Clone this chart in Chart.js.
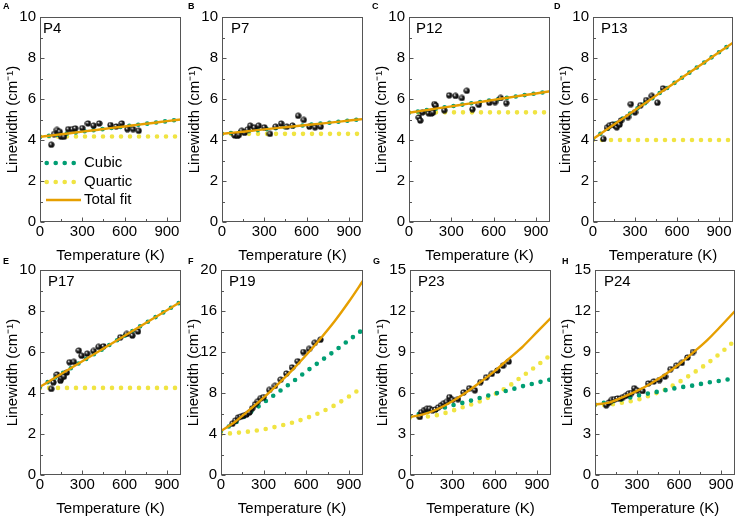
<!DOCTYPE html>
<html>
<head>
<meta charset="utf-8">
<script src="https://cdn.jsdelivr.net/npm/chart.js@4.4.1/dist/chart.umd.min.js"></script>
<style>
    body { margin: 0; background: #fff; width: 738px; height: 520px; position: relative; overflow: hidden; font-family: 'Liberation Sans', Arial, sans-serif; }
    canvas { position: absolute; }
    .tag { position: absolute; font-weight: bold; font-size: 9px; line-height: 9px; color: #000; }
</style>
</head>
<body>
<script>
// shared axes
const xTicks = [0, 300, 600, 900];
const xMinor = [150, 450, 750];
const yTicks10 = [0, 2, 4, 6, 8, 10];
const yTicks20 = [0, 4, 8, 12, 16, 20];
const yTicks15 = [0, 3, 6, 9, 12, 15];

const fitT = [0, 100, 200, 300, 400, 500, 600, 700, 800, 900, 1000];

// P4
const p4T = [80, 100, 120, 140, 150, 170, 200, 230, 250, 300, 340, 380, 420, 500, 540, 580, 620, 660, 700];
const p4W = [3.77, 4.29, 4.49, 4.4, 4.16, 4.16, 4.53, 4.53, 4.57, 4.58, 4.81, 4.7, 4.81, 4.73, 4.66, 4.81, 4.53, 4.53, 4.45];
const p4Cubic = [4.15, 4.24, 4.32, 4.41, 4.49, 4.58, 4.66, 4.75, 4.83, 4.92, 5.0];
const p4Quartic = [4.17, 4.17, 4.17, 4.17, 4.17, 4.17, 4.17, 4.17, 4.17, 4.17, 4.17];
const p4Total = [4.15, 4.24, 4.32, 4.41, 4.49, 4.58, 4.66, 4.75, 4.83, 4.92, 5.0];

// P7
const p7T = [90, 110, 120, 140, 160, 180, 200, 230, 260, 300, 340, 380, 420, 460, 500, 540, 580, 620, 660, 700];
const p7W = [4.22, 4.2, 4.25, 4.45, 4.35, 4.5, 4.7, 4.6, 4.7, 4.62, 4.3, 4.65, 4.8, 4.65, 4.7, 5.18, 4.98, 4.65, 4.62, 4.65];
const p7Cubic = [4.3, 4.37, 4.44, 4.52, 4.59, 4.66, 4.73, 4.8, 4.87, 4.95, 5.02];
const p7Quartic = [4.3, 4.3, 4.3, 4.3, 4.3, 4.3, 4.3, 4.3, 4.3, 4.3, 4.3];
const p7Total = [4.3, 4.37, 4.44, 4.52, 4.59, 4.66, 4.73, 4.8, 4.87, 4.95, 5.02];

// P12
const p12T = [70, 80, 95, 140, 160, 170, 180, 190, 250, 285, 330, 375, 410, 450, 495, 570, 610, 650, 690];
const p12W = [5.1, 4.95, 5.35, 5.3, 5.3, 5.35, 5.75, 5.68, 5.45, 6.18, 6.15, 6.05, 6.4, 5.5, 5.72, 5.82, 5.85, 6.05, 5.8];
const p12Cubic = [5.33, 5.43, 5.54, 5.64, 5.75, 5.85, 5.96, 6.06, 6.17, 6.27, 6.38];
const p12Quartic = [5.35, 5.35, 5.35, 5.35, 5.35, 5.35, 5.35, 5.35, 5.35, 5.35, 5.35];
const p12Total = [5.33, 5.43, 5.54, 5.64, 5.75, 5.85, 5.96, 6.06, 6.17, 6.27, 6.38];

// P13
const p13T = [75, 100, 120, 140, 160, 170, 180, 190, 200, 250, 270, 300, 340, 380, 420, 460, 500];
const p13W = [4.05, 4.6, 4.72, 4.75, 4.7, 4.62, 4.8, 4.75, 4.95, 5.12, 5.75, 5.35, 5.7, 5.95, 6.15, 5.82, 6.52];
const p13Cubic = [4.05, 4.52, 4.99, 5.46, 5.93, 6.4, 6.87, 7.34, 7.81, 8.28, 8.75];
const p13Quartic = [4.0, 4.0, 4.0, 4.0, 4.0, 4.0, 4.0, 4.0, 4.0, 4.0, 4.0];
const p13Total = [4.05, 4.52, 4.99, 5.46, 5.93, 6.4, 6.87, 7.34, 7.81, 8.28, 8.75];

// P17
const p17T = [80, 95, 120, 145, 150, 170, 190, 210, 240, 275, 295, 335, 380, 415, 450, 570, 615, 655, 695];
const p17W = [4.2, 4.52, 4.9, 4.6, 4.72, 4.8, 5.0, 5.5, 5.52, 6.07, 5.82, 5.92, 6.05, 6.25, 6.28, 6.72, 6.88, 6.8, 7.0];
const p17Cubic = [4.3, 4.72, 5.13, 5.55, 5.96, 6.38, 6.79, 7.21, 7.62, 8.04, 8.45];
const p17Quartic = [4.25, 4.25, 4.25, 4.25, 4.25, 4.25, 4.25, 4.25, 4.25, 4.25, 4.25];
const p17Total = [4.3, 4.72, 5.13, 5.55, 5.96, 6.38, 6.79, 7.21, 7.62, 8.04, 8.45];

// P19
const p19T = [80, 100, 120, 140, 160, 180, 200, 220, 240, 260, 280, 300, 340, 380, 420, 460, 500, 540, 580, 620, 660, 700];
const p19W = [5.0, 5.3, 5.6, 5.7, 5.8, 5.9, 6.1, 6.5, 6.9, 7.2, 7.5, 7.6, 8.3, 8.7, 9.3, 9.9, 10.5, 11.1, 12.0, 12.3, 12.9, 13.2];
const p19Cubic = [4.3, 5.1, 6.05, 7.05, 8.05, 9.05, 10.1, 11.1, 12.1, 13.15, 14.2];
const p19Quartic = [4.0, 4.1, 4.25, 4.45, 4.75, 5.1, 5.55, 6.1, 6.8, 7.65, 8.6];
const p19Total = [4.3, 5.2, 6.35, 7.55, 8.85, 10.2, 11.7, 13.3, 15.0, 16.9, 18.95];

// P23
const p23T = [70, 80, 100, 120, 140, 160, 180, 200, 220, 240, 260, 280, 300, 340, 380, 420, 460, 500, 540, 580, 620, 660, 700];
const p23W = [4.25, 4.6, 4.75, 4.85, 4.85, 4.75, 4.8, 4.95, 5.1, 5.25, 5.35, 5.7, 5.5, 5.55, 6.05, 6.35, 6.2, 6.8, 7.15, 7.4, 7.65, 8.0, 8.3];
const p23Cubic = [4.3, 4.55, 4.8, 5.1, 5.35, 5.65, 5.95, 6.2, 6.5, 6.75, 7.0];
const p23Quartic = [4.2, 4.25, 4.4, 4.7, 5.05, 5.4, 5.9, 6.5, 7.25, 8.0, 8.8];
const p23Total = [4.25, 4.45, 4.85, 5.4, 6.05, 6.8, 7.6, 8.5, 9.4, 10.45, 11.5];

// P24
const p24T = [80, 100, 120, 140, 160, 180, 200, 220, 240, 260, 280, 300, 340, 380, 420, 460, 500, 540, 580, 620, 660, 700];
const p24W = [5.1, 5.3, 5.5, 5.55, 5.6, 5.6, 5.7, 5.8, 5.95, 6.0, 6.35, 6.2, 6.15, 6.7, 6.85, 6.95, 7.2, 7.75, 8.0, 8.2, 8.6, 9.0];
const p24Cubic = [5.15, 5.35, 5.55, 5.8, 6.0, 6.2, 6.4, 6.55, 6.75, 6.9, 7.1];
const p24Quartic = [5.1, 5.15, 5.3, 5.5, 5.85, 6.25, 6.8, 7.45, 8.15, 8.95, 9.85];
const p24Total = [5.15, 5.3, 5.7, 6.15, 6.7, 7.35, 8.1, 8.95, 9.85, 10.9, 12.0];

const legendLabels = ['Cubic', 'Quartic', 'Total fit'];
const COLORS = { cubic: '#009E73', quartic: '#F0E442', total: '#E69F00', frame: '#555' };
const FONT = "'Liberation Sans', Arial, sans-serif";

Chart.defaults.font.family = FONT;
Chart.defaults.color = '#000';

// plot rectangles [left, top, right, bottom] in page pixels
const panels = [
    { tag: 'A', tagAt: [3, 2],   rect: [40, 16, 181, 222],   name: 'P4',  T: p4T,  W: p4W,  cubic: p4Cubic,  quartic: p4Quartic,  total: p4Total,  yTicks: yTicks10, nameDx: 3, legend: true },
    { tag: 'B', tagAt: [188, 2], rect: [222, 16, 363, 222],  name: 'P7',  T: p7T,  W: p7W,  cubic: p7Cubic,  quartic: p7Quartic,  total: p7Total,  yTicks: yTicks10, nameDx: 9 },
    { tag: 'C', tagAt: [372, 2], rect: [409, 16, 550, 222],  name: 'P12', T: p12T, W: p12W, cubic: p12Cubic, quartic: p12Quartic, total: p12Total, yTicks: yTicks10, nameDx: 7 },
    { tag: 'D', tagAt: [554, 2], rect: [593, 16, 733, 222],  name: 'P13', T: p13T, W: p13W, cubic: p13Cubic, quartic: p13Quartic, total: p13Total, yTicks: yTicks10, nameDx: 8 },
    { tag: 'E', tagAt: [3, 257], rect: [40, 269, 181, 475],  name: 'P17', T: p17T, W: p17W, cubic: p17Cubic, quartic: p17Quartic, total: p17Total, yTicks: yTicks10, nameDx: 8 },
    { tag: 'F', tagAt: [188, 257], rect: [221, 269, 363, 475], name: 'P19', T: p19T, W: p19W, cubic: p19Cubic, quartic: p19Quartic, total: p19Total, yTicks: yTicks20, nameDx: 8 },
    { tag: 'G', tagAt: [373, 257], rect: [410, 269, 551, 475], name: 'P23', T: p23T, W: p23W, cubic: p23Cubic, quartic: p23Quartic, total: p23Total, yTicks: yTicks15, nameDx: 8 },
    { tag: 'H', tagAt: [562, 257], rect: [595, 269, 735, 475], name: 'P24', T: p24T, W: p24W, cubic: p24Cubic, quartic: p24Quartic, total: p24Total, yTicks: yTicks15, nameDx: 9 }
];

const AXIS_W = 40, AXIS_H = 47, PAD_TOP = 12, PAD_RIGHT = 5;

// shaded black ball used for the measured points
function makeSphere() {
    const c = document.createElement('canvas');
    c.width = c.height = 7;
    const g = c.getContext('2d');
    const grad = g.createRadialGradient(2.4, 2.4, 0.1, 3.5, 3.5, 3.4);
    grad.addColorStop(0, '#ffffff');
    grad.addColorStop(0.2, '#8a8a8a');
    grad.addColorStop(0.45, '#1e1e1e');
    grad.addColorStop(1, '#000');
    g.fillStyle = grad;
    g.beginPath();
    g.arc(3.5, 3.5, 3.1, 0, Math.PI * 2);
    g.fill();
    return c;
}
const sphere = makeSphere();

const toXY = (xs, ys) => xs.map((x, i) => ({ x, y: ys[i] }));

// frame, inward ticks, panel name and (panel A) legend
const framePlugin = {
    id: 'frame',
    afterDraw(chart, args, opts) {
        const { ctx, chartArea: a, scales: { x, y } } = chart;
        const L = Math.round(a.left) + 0.5, R = Math.round(a.right) - 0.5;
        const Tp = Math.round(a.top) + 0.5, B = Math.round(a.bottom) - 0.5;
        ctx.save();
        ctx.strokeStyle = COLORS.frame;
        ctx.lineWidth = 1;
        ctx.strokeRect(L, Tp, R - L, B - Tp);

        ctx.beginPath();
        xTicks.forEach(v => { const px = Math.round(x.getPixelForValue(v)) + 0.5; ctx.moveTo(px, B); ctx.lineTo(px, B - 4); });
        xMinor.forEach(v => { const px = Math.round(x.getPixelForValue(v)) + 0.5; ctx.moveTo(px, B); ctx.lineTo(px, B - 2.5); });
        opts.yTicks.forEach((v, i) => {
            const py = Math.round(y.getPixelForValue(v)) + 0.5;
            ctx.moveTo(L, py); ctx.lineTo(L + 4, py);
            if (i > 0) {
                const pm = Math.round(y.getPixelForValue((v + opts.yTicks[i - 1]) / 2)) + 0.5;
                ctx.moveTo(L, pm); ctx.lineTo(L + 2.5, pm);
            }
        });
        ctx.stroke();

        ctx.fillStyle = '#000';
        ctx.font = '15px ' + FONT;
        ctx.textBaseline = 'middle';
        ctx.fillText(opts.name, a.left + opts.nameDx, a.top + 12);

        if (opts.legend) {
            const rows = [146, 165, 183];
            const colors = [COLORS.cubic, COLORS.quartic];
            for (let r = 0; r < 2; r++) {
                ctx.fillStyle = colors[r];
                for (let k = 0; k < 4; k++) {
                    ctx.beginPath();
                    ctx.arc(a.left + 6.7 + k * 9, a.top + rows[r], 2.3, 0, Math.PI * 2);
                    ctx.fill();
                }
            }
            ctx.strokeStyle = COLORS.total;
            ctx.lineWidth = 2.5;
            ctx.beginPath();
            ctx.moveTo(a.left + 6, a.top + rows[2]);
            ctx.lineTo(a.left + 41, a.top + rows[2]);
            ctx.stroke();
            ctx.fillStyle = '#000';
            legendLabels.forEach((t, r) => ctx.fillText(t, a.left + 44, a.top + rows[r]));
        }
        ctx.restore();
    }
};

function buildPanel(p) {
    const [pl, pt, pr, pb] = p.rect;
    const canvas = document.createElement('canvas');
    canvas.width = pr - pl + AXIS_W + PAD_RIGHT;
    canvas.height = pb - pt + PAD_TOP + AXIS_H;
    canvas.style.left = (pl - AXIS_W) + 'px';
    canvas.style.top = (pt - PAD_TOP) + 'px';
    document.body.appendChild(canvas);

    const tag = document.createElement('div');
    tag.className = 'tag';
    tag.textContent = p.tag;
    tag.style.left = p.tagAt[0] + 'px';
    tag.style.top = p.tagAt[1] + 'px';
    document.body.appendChild(tag);

    const yMax = p.yTicks[p.yTicks.length - 1];
    const curve = (data, color, width, dashed, order) => ({
        data: toXY(fitT, data),
        borderColor: color,
        borderWidth: width,
        borderDash: dashed ? [0, 9] : [],
        borderCapStyle: 'round',
        pointRadius: 0,
        cubicInterpolationMode: 'monotone',
        fill: false,
        order
    });

    new Chart(canvas, {
        type: 'line',
        data: {
            datasets: [
                curve(p.total, COLORS.total, 2.4, false, 0),
                {
                    data: toXY(p.T, p.W),
                    showLine: false,
                    pointStyle: sphere,
                    pointRadius: 3.5,
                    order: 1
                },
                curve(p.cubic, COLORS.cubic, 4.6, true, 2),
                curve(p.quartic, COLORS.quartic, 4.6, true, 3)
            ]
        },
        options: {
            responsive: false,
            animation: false,
            devicePixelRatio: 1,
            layout: { padding: { top: PAD_TOP, right: PAD_RIGHT, left: 0, bottom: 0 } },
            plugins: {
                legend: { display: false },
                tooltip: { enabled: false },
                frame: { name: p.name, nameDx: p.nameDx, yTicks: p.yTicks, legend: !!p.legend }
            },
            scales: {
                x: {
                    type: 'linear', min: 0, max: 1000,
                    afterBuildTicks: s => { s.ticks = xTicks.map(v => ({ value: v })); },
                    afterFit: s => { s.height = AXIS_H; },
                    grid: { display: false, drawTicks: false },
                    border: { display: false },
                    ticks: { padding: 1, color: '#000', font: { size: 15 }, maxRotation: 0 },
                    title: { display: true, text: 'Temperature (K)', color: '#000', font: { size: 15 }, padding: { top: 4, bottom: 4 } }
                },
                y: {
                    type: 'linear', min: 0, max: yMax,
                    afterBuildTicks: s => { s.ticks = p.yTicks.map(v => ({ value: v })); },
                    afterFit: s => { s.width = AXIS_W; },
                    grid: { display: false, drawTicks: false },
                    border: { display: false },
                    ticks: { padding: 4, color: '#000', font: { size: 15 } },
                    title: { display: true, text: 'Linewidth (cm⁻¹)', color: '#000', font: { size: 15 }, padding: { top: 4, bottom: 4 } }
                }
            }
        },
        plugins: [framePlugin]
    });
}

panels.forEach(buildPanel);
</script>
</body>
</html>
